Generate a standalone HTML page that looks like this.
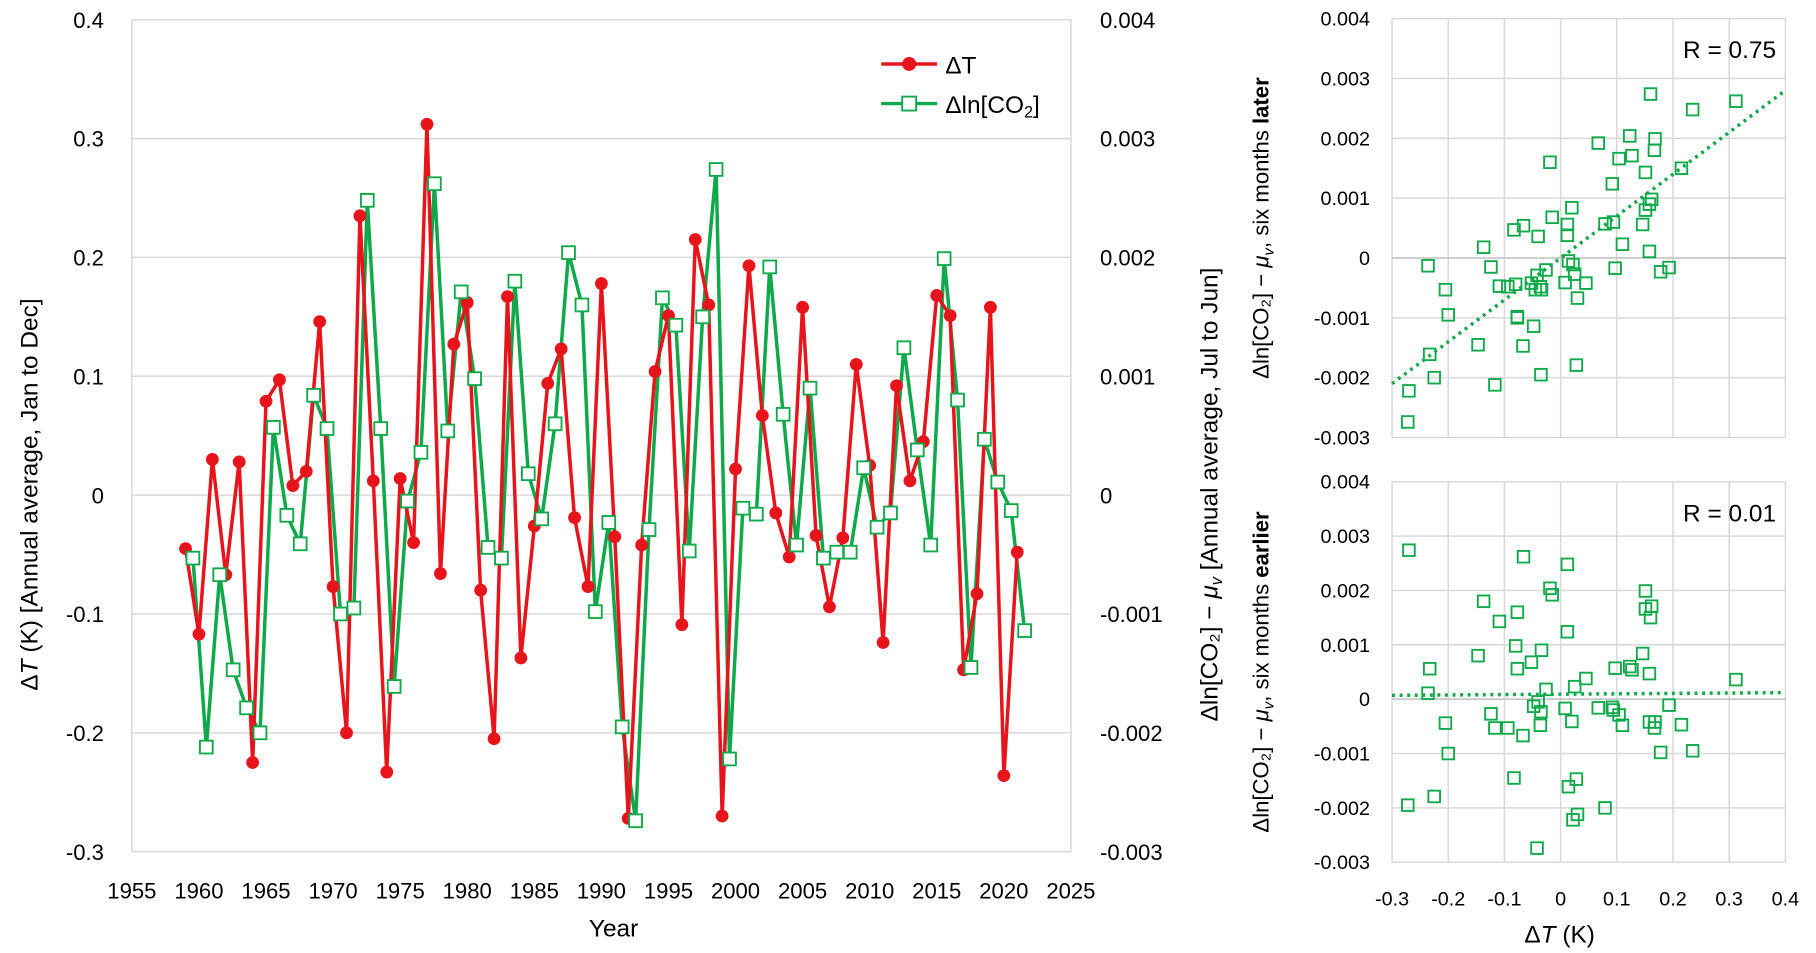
<!DOCTYPE html>
<html><head><meta charset="utf-8"><style>
html,body{margin:0;padding:0;background:#fff;}
svg{display:block;font-family:"Liberation Sans","DejaVu Sans",sans-serif;}
</style></head><body>
<svg id="s" width="1816" height="953" viewBox="0 0 1560 819" xmlns="http://www.w3.org/2000/svg"></svg>
<script>
const T=[-0.045,-0.117,0.03,-0.067,0.028,-0.225,0.079,0.097,0.008,0.02,0.146,-0.077,-0.2,0.235,0.012,-0.233,0.014,-0.04,0.312,-0.066,0.127,0.162,-0.08,-0.205,0.167,-0.137,-0.026,0.094,0.123,-0.019,-0.077,0.178,-0.035,-0.272,-0.042,0.104,0.151,-0.109,0.215,0.16,-0.27,0.022,0.193,0.067,-0.015,-0.052,0.158,-0.034,-0.094,-0.036,0.11,0.025,-0.124,0.092,0.012,0.045,0.168,0.151,-0.147,-0.083,0.158,-0.236,-0.048];
const G=[-0.053,-0.212,-0.067,-0.147,-0.179,-0.2,0.057,-0.017,-0.041,0.084,0.056,-0.1,-0.095,0.248,0.056,-0.161,-0.005,0.036,0.262,0.054,0.171,0.098,-0.044,-0.053,0.18,0.018,-0.02,0.06,0.204,0.16,-0.098,-0.023,-0.195,-0.274,-0.029,0.166,0.143,-0.047,0.15,0.274,-0.222,-0.011,-0.016,0.192,0.068,-0.042,0.09,-0.053,-0.048,-0.048,0.023,-0.027,-0.015,0.124,0.038,-0.042,0.199,0.08,-0.145,0.047,0.011,-0.013,-0.114];
let h='';
const RED='#e8141b',GRN='#0fa84a',GRID='#d9d9d9';
// main chart
const X=y=>113+(y-1955)*807/70, Y=v=>425.5-v*1021.4;
for(let v=-0.3;v<=0.4001;v+=0.1){const y=Y(v);h+=`<line x1="113" x2="920" y1="${y}" y2="${y}" stroke="${GRID}" stroke-width="1.3"/>`;
const lab=Math.abs(v)<1e-9?'0':v.toFixed(1);h+=`<text x="89" y="${y+7}" font-size="19" text-anchor="end">${lab}</text>`;
const lab2=Math.abs(v)<1e-9?'0':(v/100).toFixed(3);h+=`<text x="945" y="${y+7}" font-size="19">${lab2}</text>`;}
h+=`<line x1="113" x2="113" y1="17" y2="732" stroke="${GRID}" stroke-width="1.3"/><line x1="920" x2="920" y1="17" y2="732" stroke="${GRID}" stroke-width="1.3"/>`;
for(let yr=1955;yr<=2025;yr+=5)h+=`<text x="${X(yr)}" y="772" font-size="19" text-anchor="middle">${yr}</text>`;
h+=`<text x="527" y="805" font-size="21" text-anchor="middle">Year</text>`;
h+=`<text transform="translate(32,425) rotate(-90)" font-size="21" text-anchor="middle">Δ<tspan font-style="italic">T</tspan> (K) [Annual average, Jan to Dec]</text>`;
h+=`<text transform="translate(1046,425) rotate(-90)" font-size="21" text-anchor="middle">Δln[CO₂] − <tspan font-style="italic">μ<tspan font-size="14" dy="4">v</tspan></tspan><tspan dy="-4"> [Annual average, Jul to Jun]</tspan></text>`;
let pr=T.map((v,i)=>`${X(1959+i).toFixed(1)},${Y(v).toFixed(1)}`).join(' ');
let pg=G.map((v,i)=>`${X(1959.55+i).toFixed(1)},${Y(v).toFixed(1)}`).join(' ');
h+=`<polyline points="${pg}" fill="none" stroke="${GRN}" stroke-width="3"/>`;
h+=`<polyline points="${pr}" fill="none" stroke="${RED}" stroke-width="3"/>`;
T.forEach((v,i)=>h+=`<circle cx="${X(1959+i)}" cy="${Y(v)}" r="5.5" fill="${RED}"/>`);
G.forEach((v,i)=>h+=`<rect x="${X(1959.55+i)-5.5}" y="${Y(v)-5.5}" width="11" height="11" fill="#fff" stroke="${GRN}" stroke-width="1.6"/>`);
// legend
h+=`<line x1="757" x2="805" y1="55" y2="55" stroke="${RED}" stroke-width="3"/><circle cx="781" cy="55" r="6" fill="${RED}"/><text x="812" y="63" font-size="21">ΔT</text>`;
h+=`<line x1="757" x2="805" y1="89" y2="89" stroke="${GRN}" stroke-width="3"/><rect x="775" y="83" width="12" height="12" fill="#fff" stroke="${GRN}" stroke-width="1.6"/><text x="812" y="97" font-size="21">Δln[CO<tspan font-size="14" dy="4">2</tspan><tspan dy="-4">]</tspan></text>`;
// scatters
function scatter(top,bot,pts,fit,R,word){
 const sx=v=>1196+(v+0.3)*338/0.7, sy=v=>top+(0.004-v)*(bot-top)/0.007;
 for(let v=-0.3;v<=0.4001;v+=0.1){const x=sx(v);h+=`<line x1="${x}" x2="${x}" y1="${top}" y2="${bot}" stroke="${GRID}" stroke-width="1.3"/>`;}
 for(let k=-3;k<=4;k++){const y=sy(k/1000);h+=`<line x1="1196" x2="1534" y1="${y}" y2="${y}" stroke="${k==0?'#bfbfbf':GRID}" stroke-width="1.3"/>`;
  h+=`<text x="1177" y="${y+6}" font-size="17" text-anchor="end">${k==0?'0':(k/1000).toFixed(3)}</text>`;}
 h+=`<line x1="${sx(-0.3)}" x2="${sx(0.4)}" y1="${sy(fit[0])}" y2="${sy(fit[1])}" stroke="${GRN}" stroke-width="3" stroke-dasharray="2.5,4"/>`;
 pts.forEach(p=>h+=`<rect x="${sx(p[0])-5}" y="${sy(p[1]/100)-5}" width="10" height="10" fill="none" stroke="${GRN}" stroke-width="1.6"/>`);
 h+=`<text x="1526" y="${top+34}" font-size="21" text-anchor="end">R = ${R}</text>`;
 h+=`<text transform="translate(1090,${(top+bot)/2}) rotate(-90)" font-size="19" text-anchor="middle">Δln[CO₂] − <tspan font-style="italic">μ<tspan font-size="13" dy="4">v</tspan></tspan><tspan dy="-4">, six months </tspan><tspan font-weight="bold">${word}</tspan></text>`;
}
const later=T.map((t,i)=>[t,G[i]]);
const earlier=T.slice(1).map((t,i)=>[t,G[i]]);
scatter(16,376,later,[-0.0021,0.0028],'0.75','later');
scatter(414,741,earlier,[0.00007,0.00012],'0.01','earlier');
for(let v=-0.3;v<=0.4001;v+=0.1){const x=1196+(v+0.3)*338/0.7;h+=`<text x="${x}" y="778" font-size="17" text-anchor="middle">${Math.abs(v)<1e-9?'0':v.toFixed(1)}</text>`;}
h+=`<text x="1340" y="810" font-size="21" text-anchor="middle">Δ<tspan font-style="italic">T</tspan> (K)</text>`;
document.getElementById('s').innerHTML=h;
</script>
</body></html>
